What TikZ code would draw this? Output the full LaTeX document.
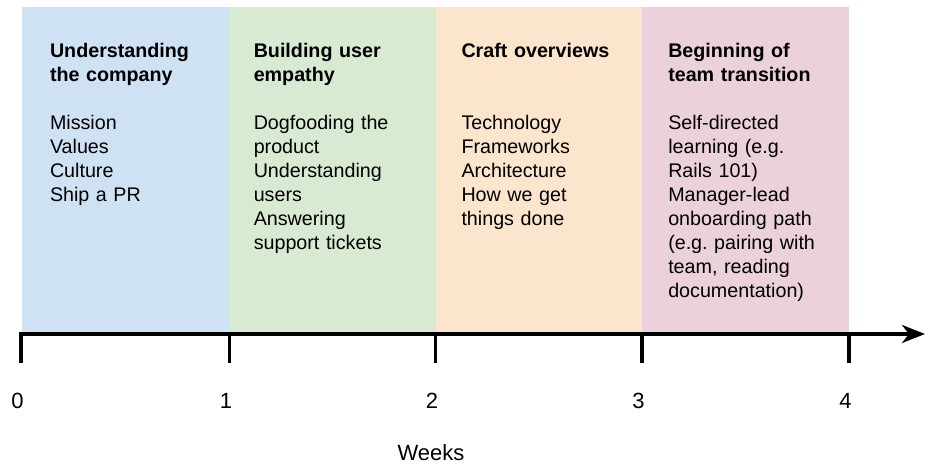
\documentclass[tikz,border=0pt]{standalone}
\usepackage{fontspec}
\setmainfont{Liberation Sans}
\usetikzlibrary{positioning, calc, arrows.meta}
\frenchspacing

\definecolor{phaseblue}{HTML}{CFE2F3}
\definecolor{phasegreen}{HTML}{D9EAD3}
\definecolor{phaseorange}{HTML}{FCE5CD}
\definecolor{phasepink}{HTML}{EAD1DC}

\tikzset{
  phase/.style={rectangle, minimum width=206.75pt, minimum height=326pt},
  phasetext/.style={anchor=base west, text width=185pt, align=left, font=\fontsize{19.7}{24}\selectfont},
  weeklabel/.style={font=\fontsize{22}{26}\selectfont},
  axisline/.style={line width=3.5pt, black}
}

\begin{document}
\begin{tikzpicture}[x=1pt, y=-1pt, every node/.style={inner sep=0pt, outer sep=0pt}]
	\useasboundingbox (0,0) rectangle (942,476);
	% the four phases
	\node[phase, fill=phaseblue, anchor=north west] (P1) at (22,7) {};
	\node[phase, fill=phasegreen, right=0pt of P1] (P2) {};
	\node[phase, fill=phaseorange, right=0pt of P2] (P3) {};
	\node[phase, fill=phasepink, right=0pt of P3] (P4) {};
	% what happens in each phase
	\node[phasetext] (T1) at ($(P1.north west)+(28,51)$) {\textbf{Understanding\\the company}\\[24pt]Mission\\Values\\Culture\\Ship a PR};
	\node[phasetext] (T2) at ($(P2.north west)+(25,51)$) {\textbf{Building user\\empathy}\\[24pt]Dogfooding the\\product\\Understanding\\users\\Answering\\support tickets};
	\node[phasetext] (T3) at ($(P3.north west)+(26,51)$) {\textbf{Craft overviews}\\[48pt]Technology\\Frameworks\\Architecture\\How we get\\things done};
	\node[phasetext] (T4) at ($(P4.north west)+(26,51)$) {\textbf{Beginning of\\team transition}\\[24pt]Self-directed\\learning (e.g.\\Rails 101)\\Manager-lead\\onboarding path\\(e.g. pairing with\\team, reading\\documentation)};
	% time axis
	\coordinate (t0) at (21,334);
	\coordinate (t1) at (229.5,334);
	\coordinate (t2) at (435.5,334);
	\coordinate (t3) at (642,334);
	\coordinate (t4) at (849,334);
	\coordinate (tip) at (925,334);
	\draw[axisline, -{Stealth[length=23pt, width=18pt, inset=7pt]}] ($(t0)+(0,29)$) -- (t0) -- (tip);
	\foreach \i in {1,...,4}
		\draw[axisline] (t\i) -- ++(0,29);
	\foreach \i in {0,...,4}
		\node[weeklabel] (L\i) at ($(t\i)+(-3.5,67)$) {\i};
	\node[weeklabel] (W) at (431,453) {Weeks};
\end{tikzpicture}
\end{document}
